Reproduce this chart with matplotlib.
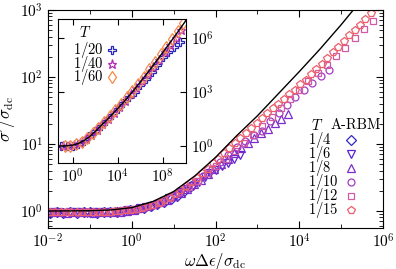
import numpy as np
import matplotlib
matplotlib.use('Agg')
import matplotlib.pyplot as plt
from matplotlib.ticker import FixedLocator, FuncFormatter, LogLocator, NullFormatter

plt.rcParams['mathtext.fontset'] = 'cm'
plt.rcParams['font.family'] = 'serif'
plt.rcParams['font.serif'] = ['cmr10', 'DejaVu Serif']
plt.rcParams['axes.unicode_minus'] = False

# all values as (log10 x, log10 y)
curve = [(-2.0, 0.0), (-1.5, 0.001), (-1.0, 0.004), (-0.5, 0.015), (0.0, 0.05),
         (0.5, 0.14), (1.0, 0.29), (1.5, 0.52), (2.0, 0.80), (2.5, 1.12),
         (3.0, 1.42), (3.5, 1.75), (4.0, 2.08), (4.5, 2.42), (5.0, 2.78),
         (5.5, 3.16), (6.0, 3.55), (6.5, 3.95), (7.0, 4.36), (7.5, 4.78),
         (8.0, 5.2), (8.5, 5.62), (9.0, 6.05), (9.5, 6.49), (10.0, 6.93), (10.2, 7.1)]

T4 = [(-1.95, -0.03), (-1.79, -0.02), (-1.63, -0.03), (-1.47, -0.02), (-1.31, -0.03),
      (-1.15, -0.02), (-0.99, -0.02), (-0.83, -0.03), (-0.67, -0.02), (-0.51, -0.01),
      (-0.35, -0.01), (-0.19, 0.0), (-0.03, 0.01), (0.13, 0.03), (0.29, 0.05),
      (0.45, 0.07), (0.61, 0.10), (0.77, 0.14), (0.93, 0.18), (1.09, 0.23),
      (1.25, 0.30), (1.41, 0.37)]

T6 = [(-1.90, -0.02), (-1.76, -0.01), (-1.62, -0.03), (-1.48, -0.02), (-1.34, -0.02),
      (-1.20, -0.01), (-1.06, -0.03), (-0.92, -0.02), (-0.78, -0.01), (-0.64, -0.02),
      (-0.50, -0.02), (-0.36, -0.01), (-0.22, 0.0), (-0.08, 0.01), (0.06, 0.02),
      (0.20, 0.04), (0.34, 0.06), (0.48, 0.08), (0.62, 0.11), (0.76, 0.15),
      (0.90, 0.19), (1.04, 0.23), (1.18, 0.28), (1.32, 0.33), (1.46, 0.38),
      (1.60, 0.44), (1.74, 0.50), (1.88, 0.56), (2.02, 0.61), (2.16, 0.67),
      (2.30, 0.72), (2.44, 0.78), (2.58, 0.84)]

T8 = [(-1.87, -0.02), (-1.71, -0.01), (-1.55, -0.03), (-1.39, -0.02), (-1.23, -0.01),
      (-1.07, -0.02), (-0.91, -0.03), (-0.75, -0.02), (-0.59, -0.01), (-0.43, -0.02),
      (-0.27, -0.01), (-0.11, 0.0), (0.05, 0.02), (0.21, 0.04), (0.37, 0.07),
      (0.53, 0.10), (0.69, 0.13), (0.85, 0.17), (1.01, 0.22), (1.17, 0.27),
      (1.33, 0.33), (1.49, 0.40), (1.65, 0.47), (1.81, 0.55), (1.97, 0.62),
      (2.13, 0.70), (2.29, 0.78), (2.45, 0.86), (2.61, 0.94), (2.77, 1.02),
      (2.93, 1.09), (3.09, 1.16), (3.25, 1.23), (3.41, 1.31), (3.57, 1.38), (3.73, 1.45)]

T10 = [(-1.89, -0.02), (-1.69, -0.01), (-1.49, -0.02), (-1.29, -0.03), (-1.09, -0.01),
       (-0.89, -0.02), (-0.69, -0.01), (-0.49, -0.01), (-0.29, 0.0), (-0.09, 0.01),
       (0.11, 0.03), (0.31, 0.06), (0.51, 0.09), (0.71, 0.14), (0.91, 0.20),
       (1.11, 0.27), (1.31, 0.35), (1.51, 0.43), (1.71, 0.52), (1.91, 0.62),
       (2.11, 0.73), (2.31, 0.84), (2.51, 0.95), (2.71, 1.05), (2.91, 1.14),
       (3.11, 1.20), (3.31, 1.34), (3.51, 1.46), (3.71, 1.58), (3.91, 1.70),
       (4.11, 1.81), (4.31, 1.91), (4.51, 2.01), (4.71, 2.10)]

T12 = [(-1.94, -0.01), (-1.72, -0.02), (-1.50, -0.01), (-1.28, -0.02), (-1.06, -0.01),
       (-0.84, -0.02), (-0.62, -0.01), (-0.40, 0.0), (-0.18, 0.01), (0.04, 0.03),
       (0.26, 0.06), (0.48, 0.09), (0.70, 0.14), (0.92, 0.20), (1.14, 0.28),
       (1.36, 0.36), (1.58, 0.45), (1.80, 0.56), (2.02, 0.67), (2.24, 0.78),
       (2.46, 0.90), (2.68, 1.02), (2.90, 1.14), (3.12, 1.27), (3.34, 1.40),
       (3.56, 1.53), (3.78, 1.67), (4.00, 1.80), (4.22, 1.94), (4.44, 2.06),
       (4.66, 2.18), (4.88, 2.31), (5.10, 2.44), (5.32, 2.58), (5.54, 2.71), (5.76, 2.83)]

T15 = [(-1.96, -0.02), (-1.83, -0.01), (-1.70, -0.02), (-1.57, -0.01), (-1.44, -0.02),
       (-1.31, -0.01), (-1.18, -0.02), (-1.05, -0.02), (-0.92, -0.01), (-0.79, -0.01),
       (-0.66, -0.02), (-0.53, -0.01), (-0.40, 0.0), (-0.27, 0.0), (-0.14, 0.01),
       (-0.01, 0.02), (0.12, 0.03), (0.25, 0.05), (0.38, 0.07), (0.51, 0.09),
       (0.64, 0.12), (0.77, 0.16), (0.90, 0.21), (1.03, 0.26), (1.16, 0.31),
       (1.29, 0.37), (1.42, 0.43), (1.55, 0.49), (1.68, 0.56), (1.81, 0.63),
       (1.94, 0.71), (2.07, 0.78), (2.20, 0.86), (2.33, 0.94), (2.46, 1.01),
       (2.59, 1.09), (2.72, 1.17), (2.85, 1.24), (2.98, 1.32), (3.11, 1.39),
       (3.24, 1.46), (3.37, 1.53), (3.50, 1.60), (3.63, 1.67), (3.76, 1.74),
       (3.89, 1.81), (4.02, 1.89), (4.15, 1.96), (4.28, 2.04), (4.41, 2.12),
       (4.54, 2.20), (4.67, 2.29), (4.80, 2.37), (4.93, 2.45), (5.06, 2.54),
       (5.19, 2.62), (5.32, 2.70), (5.45, 2.78), (5.58, 2.87), (5.71, 2.96), (5.84, 3.05)]

T20 = [(-1.0, -0.01), (-0.5, 0.0), (0.0, 0.03), (0.5, 0.12), (1.0, 0.30), (1.5, 0.55),
       (2.0, 0.83), (2.5, 1.10), (3.0, 1.40), (3.5, 1.73), (4.0, 2.08), (4.5, 2.40),
       (5.0, 2.70), (5.5, 3.02), (6.0, 3.38), (6.5, 3.72), (7.0, 4.10), (7.5, 4.50),
       (8.0, 4.92), (8.5, 5.22), (9.0, 5.50), (9.5, 5.76)]

T40 = [(-0.85, 0.0), (-0.35, 0.01), (0.15, 0.05), (0.65, 0.17), (1.15, 0.37), (1.65, 0.62),
       (2.15, 0.90), (2.65, 1.20), (3.15, 1.50), (3.65, 1.83), (4.15, 2.17), (4.65, 2.50),
       (5.15, 2.87), (5.65, 3.22), (6.15, 3.60), (6.65, 3.98), (7.15, 4.38), (7.65, 4.78),
       (8.15, 5.20), (8.65, 5.60), (9.15, 6.00), (9.65, 6.42)]

T60 = [(-0.7, 0.0), (-0.2, 0.03), (0.3, 0.10), (0.8, 0.25), (1.3, 0.47), (1.8, 0.73),
       (2.3, 1.02), (2.8, 1.33), (3.3, 1.65), (3.8, 1.98), (4.3, 2.33), (4.8, 2.70),
       (5.3, 3.07), (5.8, 3.45), (6.3, 3.85), (6.8, 4.25), (7.3, 4.67), (7.8, 5.10),
       (8.3, 5.52), (8.8, 5.95), (9.3, 6.40), (9.8, 6.85)]

main_labels = ['1/4', '1/6', '1/8', '1/10', '1/12', '1/15']
main_data = [T4, T6, T8, T10, T12, T15]
main_markers = ['D', 'v', '^', 'o', 's', 'p']
main_colors = ['#3326c4', '#5a22d2', '#7b2ccb', '#a23cc2', '#d05aa6', '#ec5f6c']
main_sizes = [4.6, 5.2, 5.2, 5.0, 5.0, 5.4]

inset_labels = ['1/20', '1/40', '1/60']
inset_data = [T20, T40, T60]
inset_markers = ['P', '*', 'd']
inset_colors = ['#2626b8', '#b02cb8', '#f58a4a']
inset_sizes = [6.0, 6.8, 6.4]


def xy(pairs):
    a = np.array(pairs)
    return 10 ** a[:, 0], 10 ** a[:, 1]


pow_fmt = FuncFormatter(lambda v, p: r'$10^{%d}$' % int(round(np.log10(v))))

fig = plt.figure(figsize=(3.96, 2.69), dpi=100)
ax = fig.add_axes([0.1212, 0.1524, 0.846, 0.8104])

for d, m, c, s in zip(main_data, main_markers, main_colors, main_sizes):
    x, y = xy(d)
    ax.plot(x, y, ls='none', marker=m, ms=s, mfc='none', mec=c, mew=0.9)
cx, cy = xy(curve)
ax.plot(cx, cy, color='k', lw=1.0, zorder=5)

ax.set_xscale('log')
ax.set_yscale('log')
ax.set_xlim(1e-2, 1e6)
ax.set_ylim(10 ** -0.254, 1e3)
ax.xaxis.set_major_locator(FixedLocator([1e-2, 1, 1e2, 1e4, 1e6]))
ax.xaxis.set_minor_locator(FixedLocator([1e-1, 1e1, 1e3, 1e5]))
ax.xaxis.set_major_formatter(pow_fmt)
ax.xaxis.set_minor_formatter(NullFormatter())
ax.yaxis.set_major_locator(FixedLocator([1, 1e1, 1e2, 1e3]))
ax.yaxis.set_minor_locator(LogLocator(subs=np.arange(2, 10)))
ax.yaxis.set_major_formatter(pow_fmt)
ax.yaxis.set_minor_formatter(NullFormatter())
ax.tick_params(which='both', direction='in', top=True, right=True, labelsize=11)
ax.tick_params(which='major', length=5, width=0.8)
ax.tick_params(which='minor', length=3, width=0.6)
ax.set_xlabel(r'$\omega\Delta\epsilon/\sigma_{\rm dc}$', fontsize=12, labelpad=0)
ax.set_ylabel(r"$\sigma'/\sigma_{\rm dc}$", fontsize=12, labelpad=1)

# legend of the main panel
ax.text(0.803, 0.472, r'$T$', transform=ax.transAxes, fontsize=10.5, ha='center', va='center')
ax.text(0.842, 0.472, 'A-RBM', transform=ax.transAxes, fontsize=10.5, ha='left', va='center')
for i, (lab, m, c, s) in enumerate(zip(main_labels, main_markers, main_colors, main_sizes)):
    yy = 0.404 - 0.0642 * i
    ax.text(0.776, yy, r'$%s$' % lab, transform=ax.transAxes, fontsize=10.5, va='center')
    ax.plot([0.904], [yy], transform=ax.transAxes, ls='none', marker=m, ms=s,
            mfc='none', mec=c, mew=0.9, clip_on=False)

# inset
ins = fig.add_axes([0.1472, 0.394, 0.3225, 0.5353])
for d, m, c, s in zip(inset_data, inset_markers, inset_colors, inset_sizes):
    x, y = xy(d)
    ins.plot(x, y, ls='none', marker=m, ms=s, mfc='none', mec=c, mew=0.9)
ins.plot(cx, cy, color='k', lw=1.0, zorder=5)
ins.set_xscale('log')
ins.set_yscale('log')
ins.set_xlim(10 ** -1.26, 10 ** 10.05)
ins.set_ylim(10 ** -0.94, 10 ** 7.05)
ins.xaxis.set_major_locator(FixedLocator([1, 1e4, 1e8]))
ins.xaxis.set_minor_locator(FixedLocator([]))
ins.yaxis.set_major_locator(FixedLocator([1, 1e3, 1e6]))
ins.yaxis.set_minor_locator(FixedLocator([]))
ins.xaxis.set_major_formatter(pow_fmt)
ins.yaxis.set_major_formatter(pow_fmt)
ins.tick_params(which='both', direction='in', top=True, right=True, left=True,
                labelleft=False, labelright=True, labelsize=11, length=4, width=0.8)

ins.text(0.209, 0.908, r'$T$', transform=ins.transAxes, fontsize=10.5, ha='center', va='center')
for i, (lab, m, c, s) in enumerate(zip(inset_labels, inset_markers, inset_colors, inset_sizes)):
    yy = 0.785 - 0.094 * i
    ins.text(0.115, yy, r'$%s$' % lab, transform=ins.transAxes, fontsize=10.5, va='center')
    ins.plot([0.42], [yy], transform=ins.transAxes, ls='none', marker=m, ms=s,
             mfc='none', mec=c, mew=0.9, clip_on=False)

fig.savefig('out.png', dpi=100)
